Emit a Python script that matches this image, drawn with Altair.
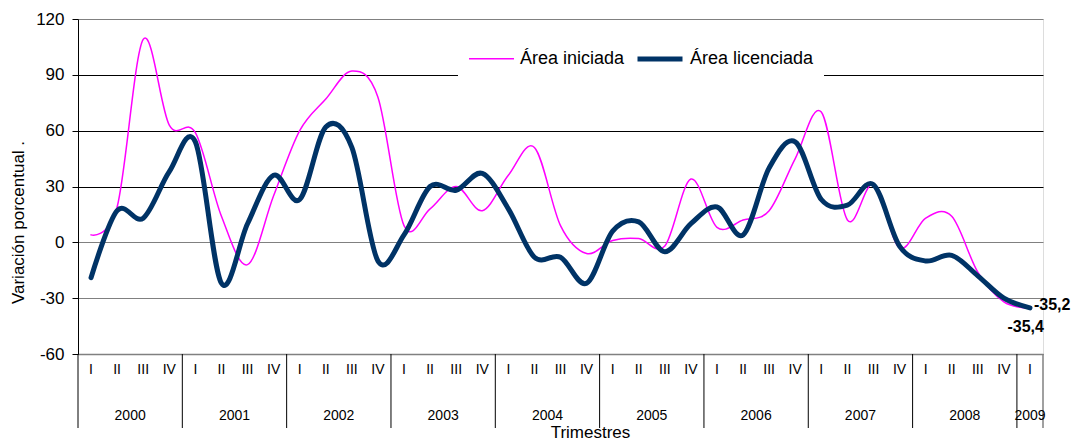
import altair as alt
import pandas as pd

# ---- data ----
series_names = ["Área iniciada", "Área licenciada"]
quarter_names = ["I", "II", "III", "IV"]
years = ["2000", "2001", "2002", "2003", "2004", "2005", "2006", "2007", "2008", "2009"]

iniciada = [4, 19, 109, 63, 59, 14, -12, 25,
            60, 77, 92, 78, 9, 18, 30, 17,
            36, 51, 9, -6, 1, 2, -2, 34,
            8, 12, 17, 45, 70, 12, 31, -3,
            13, 14, -16, -32, -35.4]
licenciada = [-19, 17, 13, 38, 54, -22, 10, 36,
              23, 62, 51, -10, 4, 30, 28, 37,
              18, -8, -8, -22, 6, 11, -5, 10,
              19, 4, 40, 54, 23, 20, 31, -2,
              -10, -7, -18, -30, -35.2]
end_labels = ["-35,4", "-35,2"]

n = len(iniciada)
rows = []
for i in range(n):
    rows.append({"pos": i + 0.5, "serie": series_names[0], "valor": iniciada[i]})
    rows.append({"pos": i + 0.5, "serie": series_names[1], "valor": licenciada[i]})
df = pd.DataFrame(rows)

ends = pd.DataFrame({
    "pos": [n - 0.5, n - 0.5],
    "serie": series_names,
    "valor": [iniciada[-1], licenciada[-1]],
    "label": end_labels,
})

quarter_df = pd.DataFrame({"pos": [i + 0.5 for i in range(n)],
                           "q": [quarter_names[i % 4] for i in range(n)]})
bounds_black = pd.DataFrame({"pos": list(range(0, n, 4))})
bounds_gray = pd.DataFrame({"pos": [n]})
year_pos = [4 * k + 2 for k in range(len(years) - 1)] + [n - 0.5]
year_df = pd.DataFrame({"pos": year_pos, "year": years})

FONT = "Liberation Sans"

xscale = alt.Scale(domain=[0, n], nice=False, zero=False)
yscale = alt.Scale(domain=[-60, 120], nice=False)

legend = alt.Legend(
    orient="none", legendX=380, legendY=5, direction="horizontal",
    fillColor="white", padding=10, labelFontSize=18, labelFont=FONT,
    symbolType="stroke", symbolSize=2025, labelOffset=5, columnPadding=2,
    title=None, labelColor="black",
)

x_enc = alt.X(
    "pos:Q", scale=xscale,
    axis=alt.Axis(
        values=[i + 0.5 for i in range(n)],
        labels=False, grid=False, ticks=False, tickSize=0,
        domainColor="#808080", domainWidth=1.5,
        title="Trimestres", titleFont=FONT, titleFontSize=17, titleFontWeight="normal",
        titleColor="black", titleX=512, titleY=78, titleAlign="center", titleBaseline="middle",
    ),
)

y_enc = alt.Y(
    "valor:Q", scale=yscale,
    axis=alt.Axis(
        values=[-60, -30, 0, 30, 60, 90, 120],
        labelExpr="datum.value + ''",
        tickSize=6, tickColor="black", domainColor="black",
        labelFontSize=17, labelFont=FONT, labelColor="black", labelPadding=8,
        gridColor={"condition": {"test": "datum.value <= 0 || datum.value >= 120", "value": "#808080"}, "value": "#000000"},
        title="Variación porcentual .", titleFont=FONT, titleFontSize=17,
        titleFontWeight="normal", titleColor="black", titleX=-60, titleY=203,
        titleAngle=270, titleAlign="center", titleBaseline="middle",
    ),
)

lines = alt.Chart(df).mark_line(interpolate="cardinal", strokeCap="round", strokeJoin="round").encode(
    x=x_enc,
    y=y_enc,
    color=alt.Color("serie:N", scale=alt.Scale(domain=series_names, range=["#FF00FF", "#003366"]), legend=legend),
    strokeWidth=alt.StrokeWidth("serie:N", scale=alt.Scale(domain=series_names, range=[1.5, 5]), legend=legend),
    order=alt.Order("pos:Q"),
)

sep_black = alt.Chart(bounds_black).mark_rule(color="black", strokeWidth=1).encode(
    x=alt.X("pos:Q", scale=xscale), y=alt.value(335), y2=alt.value(409)
)
sep_gray = alt.Chart(bounds_gray).mark_rule(color="#808080", strokeWidth=1.5).encode(
    x=alt.X("pos:Q", scale=xscale), y=alt.value(335), y2=alt.value(409)
)

quarter_text = alt.Chart(quarter_df).mark_text(font=FONT, fontSize=14, color="black", baseline="middle").encode(
    x=alt.X("pos:Q", scale=xscale), y=alt.value(351), text="q:N"
)

year_text = alt.Chart(year_df).mark_text(font=FONT, fontSize=14, color="black", baseline="middle").encode(
    x=alt.X("pos:Q", scale=xscale), y=alt.value(397), text="year:N"
)

lab_lic = alt.Chart(ends).transform_filter(alt.datum.serie == series_names[1]).mark_text(
    font=FONT, fontSize=16, fontWeight="bold", color="black", align="left", baseline="middle", dx=4, dy=-3
).encode(x=alt.X("pos:Q", scale=xscale), y=alt.Y("valor:Q", scale=yscale), text="label:N")

lab_ini = alt.Chart(ends).transform_filter(alt.datum.serie == series_names[0]).mark_text(
    font=FONT, fontSize=16, fontWeight="bold", color="black", align="right", baseline="middle", dx=14, dy=19
).encode(x=alt.X("pos:Q", scale=xscale), y=alt.Y("valor:Q", scale=yscale), text="label:N")

chart = alt.layer(lines, sep_black, sep_gray, quarter_text, year_text, lab_lic, lab_ini).properties(
    width=965, height=335,
    autosize=alt.AutoSizeParams(type="none"),
    padding={"left": 70, "top": 11, "right": 31, "bottom": 86},
    background="white",
).configure_view(stroke="#808080", strokeWidth=1.5).configure(font=FONT)

chart.save("out.html", embed_options={"renderer": "svg", "actions": False})
